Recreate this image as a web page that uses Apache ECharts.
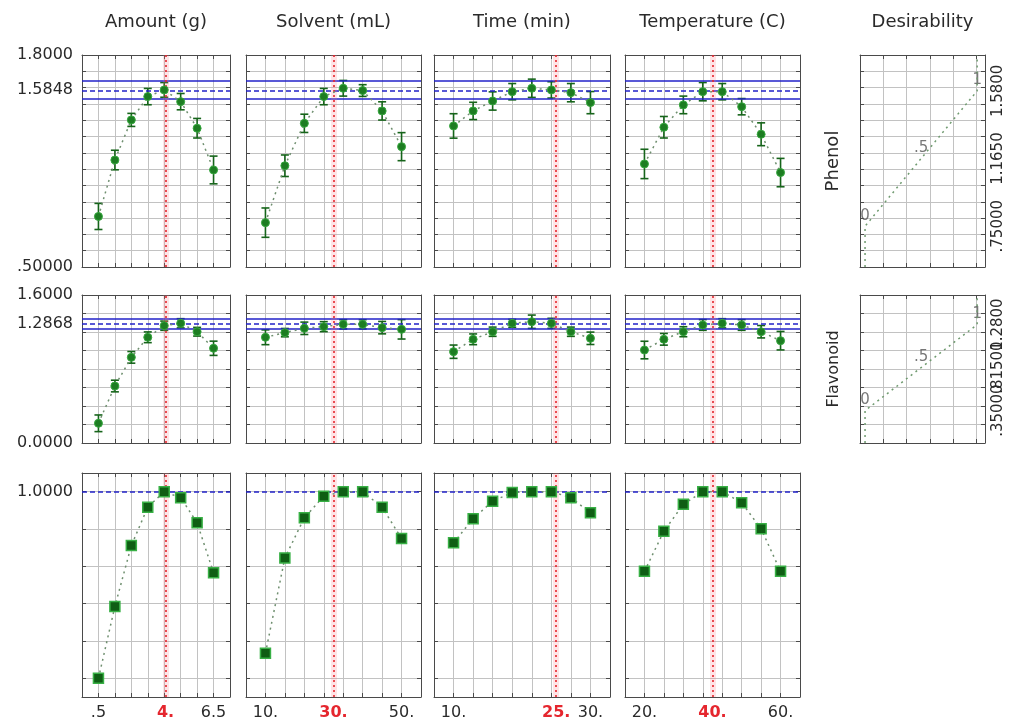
<!DOCTYPE html>
<html>
<head>
<meta charset="utf-8">
<script src="https://cdn.jsdelivr.net/npm/echarts@6/dist/echarts.min.js"></script>
<style>
  html, body { margin: 0; background: #fff; }
  #chart { width: 1012px; height: 724px; }
</style>
</head>
<body>
<div id="chart"></div>
<script>
// factors (columns)
const factorNames = ['Amount (g)', 'Solvent (mL)', 'Time (min)', 'Temperature (C)'];
const factorLow = [0.5, 10, 10, 20];
const factorHigh = [6.5, 50, 30, 60];
const factorCurrent = [4, 30, 25, 40];
const factorTickLabels = [['.5', '4.', '6.5'], ['10.', '30.', '50.'], ['10.', '25.', '30.'], ['20.', '40.', '60.']];

const amountLevels = [0.5, 1.357, 2.214, 3.071, 3.929, 4.786, 5.643, 6.5];
const solventLevels = [10, 15.71, 21.43, 27.14, 32.86, 38.57, 44.29, 50];
const timeLevels = [10, 12.86, 15.71, 18.57, 21.43, 24.29, 27.14, 30];
const tempLevels = [20, 25.71, 31.43, 37.14, 42.86, 48.57, 54.29, 60];

// Phenol profile
const phenolAmount = [0.81, 1.156, 1.402, 1.545, 1.586, 1.514, 1.351, 1.095];
const phenolAmountErr = [0.08, 0.06, 0.04, 0.05, 0.045, 0.05, 0.06, 0.085];
const phenolSolvent = [0.772, 1.121, 1.381, 1.545, 1.596, 1.582, 1.457, 1.238];
const phenolSolventErr = [0.09, 0.066, 0.056, 0.05, 0.048, 0.036, 0.056, 0.086];
const phenolTime = [1.365, 1.457, 1.518, 1.575, 1.596, 1.586, 1.569, 1.508];
const phenolTimeErr = [0.075, 0.053, 0.056, 0.05, 0.056, 0.05, 0.056, 0.068];
const phenolTemp = [1.132, 1.357, 1.494, 1.575, 1.575, 1.483, 1.314, 1.079];
const phenolTempErr = [0.09, 0.066, 0.054, 0.056, 0.05, 0.05, 0.07, 0.087];

// Flavonoid profile
const flavAmount = [0.213, 0.616, 0.926, 1.143, 1.268, 1.294, 1.203, 1.024];
const flavAmountErr = [0.09, 0.063, 0.063, 0.058, 0.05, 0.05, 0.047, 0.077];
const flavSolvent = [1.143, 1.193, 1.24, 1.258, 1.283, 1.283, 1.247, 1.229];
const flavSolventErr = [0.08, 0.045, 0.067, 0.054, 0.05, 0.05, 0.067, 0.105];
const flavTime = [0.987, 1.121, 1.203, 1.294, 1.311, 1.294, 1.203, 1.132];
const flavTimeErr = [0.072, 0.058, 0.05, 0.043, 0.072, 0.054, 0.05, 0.067];
const flavTemp = [1.005, 1.121, 1.203, 1.276, 1.294, 1.276, 1.203, 1.106];
const flavTempErr = [0.095, 0.063, 0.054, 0.058, 0.05, 0.058, 0.067, 0.1];

// overall desirability profile
const desAmount = [0.0, 0.385, 0.711, 0.917, 1.0, 0.968, 0.833, 0.565];
const desSolvent = [0.135, 0.645, 0.86, 0.976, 1.0, 1.0, 0.917, 0.749];
const desTime = [0.726, 0.855, 0.949, 0.995, 1.0, 1.0, 0.968, 0.887];
const desTemp = [0.573, 0.788, 0.932, 1.0, 1.0, 0.941, 0.801, 0.573];

// predicted values and confidence band
const phenolPred = 1.5848;
const phenolBand = [1.532, 1.636];
const flavPred = 1.2868;
const flavBand = [1.238, 1.336];
const desPred = 1.0;

// y tick labels per row
const phenolTicks = [0.5, 1.5848, 1.8];
const phenolTickLabels = ['.50000', '1.5848', '1.8000'];
const flavTicks = [0, 1.2868, 1.6];
const flavTickLabels = ['0.0000', '1.2868', '1.6000'];
const desTicks = [1];
const desTickLabels = ['1.0000'];

// desirability functions
const desirLevels = [0, 0.5, 1];
const desirLevelLabels = ['0', '.5', '1'];
const phenolGoal = [0.75, 1.165, 1.58];
const phenolGoalLabels = ['.75000', '1.1650', '1.5800'];
const flavGoal = [0.35, 0.815, 1.28];
const flavGoalLabels = ['.35000', '.81500', '1.2800'];

const FONT = '"DejaVu Sans", "Liberation Sans", Arial, sans-serif';
const TEXT = '#2a2a2a';
const BLUE = '#2222c8';
const RED = '#e5262e';
const FRAME = '#4a4a4a';
const GRIDC = '#c2c2c2';

const levelsByCol = [amountLevels, solventLevels, timeLevels, tempLevels];
const rowsData = [
  { means: [phenolAmount, phenolSolvent, phenolTime, phenolTemp], errs: [phenolAmountErr, phenolSolventErr, phenolTimeErr, phenolTempErr],
    pred: phenolPred, band: phenolBand, ticks: phenolTicks, tickLabels: phenolTickLabels },
  { means: [flavAmount, flavSolvent, flavTime, flavTemp], errs: [flavAmountErr, flavSolventErr, flavTimeErr, flavTempErr],
    pred: flavPred, band: flavBand, ticks: flavTicks, tickLabels: flavTickLabels },
  { means: [desAmount, desSolvent, desTime, desTemp], errs: null,
    pred: desPred, band: null, ticks: desTicks, tickLabels: desTickLabels }
];

const rowTop = [55, 295, 473];
const rowHeight = [212, 148, 224];
const colLeft = [82, 246, 434, 625, 860];
const colWidth = [148, 175, 176, 175, 125];
const yScales = [
  { min: 0.5, max: 1.8, interval: 0.1 },
  { min: 0, max: 1.6, interval: 0.2 },
  { min: -0.1, max: 1.1 }
];

const grid = [], xAxis = [], yAxis = [], series = [];

function lookupLabel(values, labels, v) {
  const i = values.findIndex(t => Math.abs(t - v) < 1e-6);
  return i < 0 ? '' : labels[i];
}

function baseAxis(extra) {
  return Object.assign({
    type: 'value',
    axisLine: { show: true, onZero: false, lineStyle: { color: FRAME, width: 1 } },
    axisTick: { show: true, inside: true, length: 4, lineStyle: { color: FRAME } },
    axisLabel: { show: false },
    splitLine: { show: false }
  }, extra);
}

const split = { show: true, showMinLine: false, showMaxLine: false, lineStyle: { color: GRIDC, width: 1 } };

// one framed panel = grid + bottom/top x axes + left/right y axes
function addPanel(r, c, xs, ys, xBottom, xTop, yLeft, yRight) {
  const g = grid.length;
  grid.push({ left: colLeft[c], top: rowTop[r], width: colWidth[c], height: rowHeight[r], containLabel: false, outerBoundsMode: 'none' });
  const xi = xAxis.length, yi = yAxis.length;
  xAxis.push(baseAxis(Object.assign({ gridIndex: g, position: 'bottom', splitLine: split }, xs, xBottom)));
  xAxis.push(baseAxis(Object.assign({ gridIndex: g, position: 'top' }, xs, xTop)));
  yAxis.push(baseAxis(Object.assign({ gridIndex: g, position: 'left', splitLine: split }, ys, yLeft)));
  yAxis.push(baseAxis(Object.assign({ gridIndex: g, position: 'right' }, ys, yRight)));
  return { g, xi, yi };
}

function guideLines(hLines, xCur) {
  const data = hLines.map(h => ({ yAxis: h.v, lineStyle: { color: BLUE, width: 1.7, type: h.dashed ? [5, 3] : 'solid' } }));
  data.push({ xAxis: xCur, lineStyle: { color: 'rgba(255,120,130,0.2)', width: 6, type: 'solid' } });
  data.push({ xAxis: xCur, lineStyle: { color: RED, width: 1.6, type: [2, 3] } });
  return { silent: true, symbol: 'none', label: { show: false }, animation: false, data };
}

function errorBars(p, xs, means, errs) {
  return {
    type: 'custom', xAxisIndex: p.xi, yAxisIndex: p.yi, z: 4, silent: true,
    encode: { x: 0, y: [1, 2] },
    data: xs.map((x, i) => [x, means[i] - errs[i], means[i] + errs[i]]),
    renderItem(params, api) {
      const lo = api.coord([api.value(0), api.value(1)]);
      const hi = api.coord([api.value(0), api.value(2)]);
      const w = 4;
      const style = { stroke: '#16641a', lineWidth: 1.6 };
      return { type: 'group', children: [
        { type: 'line', shape: { x1: lo[0], y1: lo[1], x2: hi[0], y2: hi[1] }, style },
        { type: 'line', shape: { x1: lo[0] - w, y1: lo[1], x2: lo[0] + w, y2: lo[1] }, style },
        { type: 'line', shape: { x1: hi[0] - w, y1: hi[1], x2: hi[0] + w, y2: hi[1] }, style }
      ] };
    }
  };
}

const labelStyle = { fontFamily: FONT, fontSize: 16, color: TEXT, showMinLabel: true, showMaxLabel: true, hideOverlap: false };

for (let r = 0; r < 3; r++) {
  const rd = rowsData[r];
  for (let c = 0; c < 4; c++) {
    const lo = factorLow[c], hi = factorHigh[c], cur = factorCurrent[c];
    const step = (hi - lo) / 7;
    const xs = { min: lo - step, max: hi + step, interval: step };
    const xTickVals = [lo, cur, hi];
    const xBottom = r === 2 ? {
      axisLabel: Object.assign({
        show: true, customValues: xTickVals, margin: 8,
        formatter: v => {
          const t = lookupLabel(xTickVals, factorTickLabels[c], v);
          return Math.abs(v - cur) < 1e-6 ? '{cur|' + t + '}' : t;
        },
        rich: { cur: { color: RED, fontWeight: 'bold', fontFamily: FONT, fontSize: 16 } }
      }, labelStyle)
    } : {};
    const xTop = r === 0 ? {
      name: factorNames[c], nameLocation: 'middle', nameGap: 24,
      nameTextStyle: { fontFamily: FONT, fontSize: 18, color: TEXT }
    } : {};
    const yLeft = c === 0 ? {
      axisLabel: Object.assign({
        show: true, customValues: rd.ticks, margin: 9,
        formatter: v => lookupLabel(rd.ticks, rd.tickLabels, v)
      }, labelStyle)
    } : {};
    const p = addPanel(r, c, xs, yScales[r], xBottom, xTop, yLeft, {});

    const hLines = rd.band
      ? [{ v: rd.band[0] }, { v: rd.band[1] }, { v: rd.pred, dashed: true }]
      : [{ v: rd.pred, dashed: true }];
    const levels = levelsByCol[c];
    const isDes = r === 2;
    series.push({
      type: 'line', xAxisIndex: p.xi, yAxisIndex: p.yi, z: 5, animation: false, silent: true,
      data: levels.map((x, i) => [x, rd.means[c][i]]),
      lineStyle: { color: '#6f8f6f', width: 1.5, type: [2, 4] },
      symbol: isDes ? 'rect' : 'circle',
      symbolSize: isDes ? 10 : 8,
      itemStyle: isDes
        ? { color: '#0f5e14', borderColor: '#38b045', borderWidth: 1.5 }
        : { color: '#1d7d22', borderColor: '#36a83e', borderWidth: 1 },
      markLine: guideLines(hLines, cur)
    });
    if (rd.errs) series.push(errorBars(p, levels, rd.means[c], rd.errs[c]));
  }
}

// desirability function panels
const desirRows = [
  { name: 'Phenol', goal: phenolGoal, goalLabels: phenolGoalLabels, nameSize: 18 },
  { name: 'Flavonoid', goal: flavGoal, goalLabels: flavGoalLabels, nameSize: 16 }
];
desirRows.forEach((d, r) => {
  const ys = yScales[r];
  const xs = { min: -0.045, max: 1.07, interval: 0.208 };
  const xTop = r === 0 ? {
    name: 'Desirability', nameLocation: 'middle', nameGap: 24,
    nameTextStyle: { fontFamily: FONT, fontSize: 18, color: TEXT }
  } : {};
  const yLeft = {
    name: d.name, nameLocation: 'middle', nameGap: 18, nameRotate: 90,
    nameTextStyle: { fontFamily: FONT, fontSize: d.nameSize, color: TEXT }
  };
  const p = addPanel(r, 4, xs, ys, {}, xTop, yLeft, {});
  // each goal value gets its own right-hand axis so overlapping labels all stay visible
  d.goal.forEach((gv, i) => {
    yAxis.push(Object.assign({
      type: 'value', gridIndex: p.g, position: 'right',
      axisLine: { show: false }, axisTick: { show: false }, splitLine: { show: false },
      axisLabel: Object.assign({
        show: true, customValues: [gv], rotate: 90, margin: 6,
        formatter: () => d.goalLabels[i]
      }, labelStyle, { fontSize: 15 })
    }, ys));
  });
  const curve = [[desirLevels[0], ys.min]]
    .concat(desirLevels.map((x, i) => [x, d.goal[i]]))
    .concat([[desirLevels[desirLevels.length - 1], ys.max]]);
  series.push({
    type: 'line', xAxisIndex: p.xi, yAxisIndex: p.yi, animation: false, silent: true,
    data: curve, symbol: 'none',
    lineStyle: { color: '#6f9a6f', width: 1.5, type: [2, 4] }
  });
  series.push({
    type: 'scatter', xAxisIndex: p.xi, yAxisIndex: p.yi, animation: false, silent: true,
    symbolSize: 0,
    data: desirLevels.map((x, i) => ({ value: [x, d.goal[i]], name: desirLevelLabels[i] })),
    label: { show: true, position: 'top', distance: 3, formatter: q => q.name, fontFamily: FONT, fontSize: 15, color: '#555' }
  });
});

const chart = echarts.init(document.getElementById('chart'), null, { renderer: 'canvas' });
chart.setOption({
  backgroundColor: '#fff',
  animation: false,
  grid, xAxis, yAxis, series
});
</script>
</body>
</html>
